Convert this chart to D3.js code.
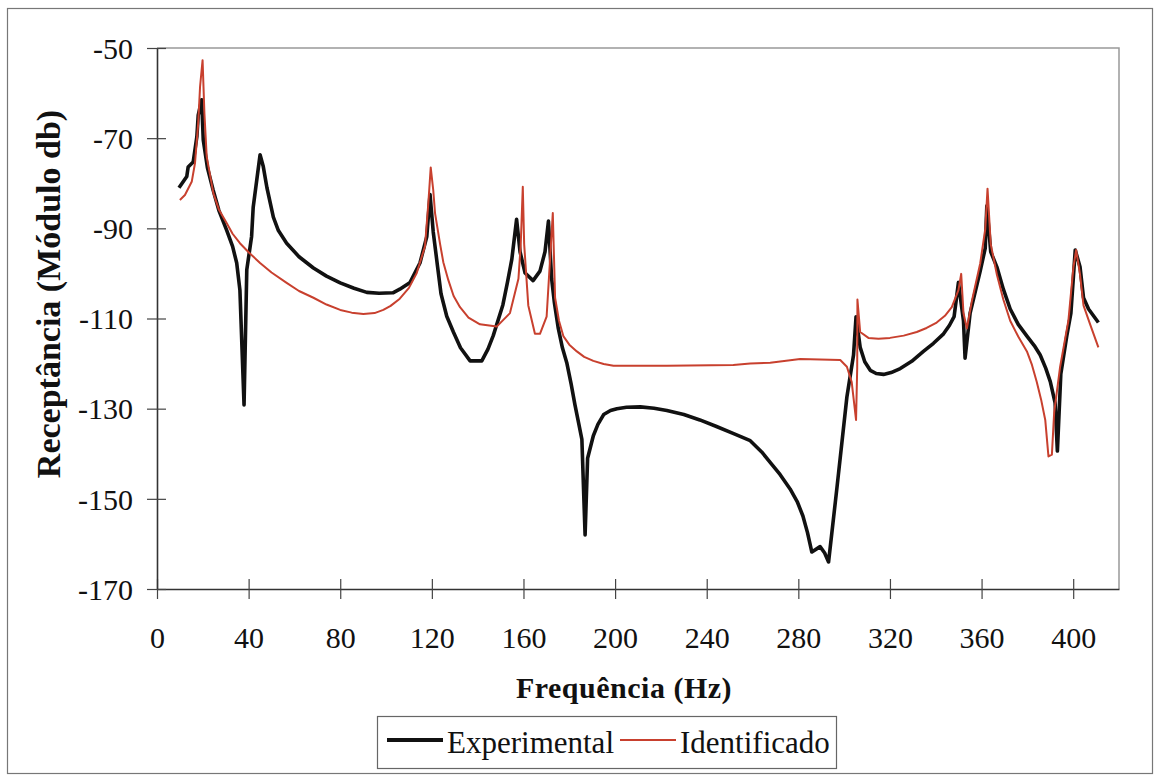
<!DOCTYPE html>
<html>
<head>
<meta charset="utf-8">
<script src="https://cdn.jsdelivr.net/npm/d3@7"></script>
<style>
  body { margin: 0; background: #fff; }
  text { font-family: "Liberation Serif", "Times New Roman", serif; fill: #111; }
</style>
</head>
<body>
<svg id="chart" width="1158" height="776"></svg>
<script>
// ---- data
const xTicks = [0, 40, 80, 120, 160, 200, 240, 280, 320, 360, 400];
const yTicks = [-50, -70, -90, -110, -130, -150, -170];

const freqExp = [9.6, 13, 13.6, 15.8, 17.4, 18, 19.5, 20.2, 22, 24.5, 27, 30.4, 33, 34.8, 36.2, 38, 39.2, 41.3, 42, 45,
  46.4, 48, 50.8, 53, 56.6, 62, 68.3, 74, 80, 86, 91.6, 97, 103, 106, 110.5, 114.8, 117.8, 119.2, 120.6, 122.5,
  124, 126.5, 129.4, 132.5, 136.7, 141.8, 144.5, 146.8, 151, 153, 154.9, 157, 158.5, 160.7, 164.2, 167.2, 169.4, 170.9, 172.3, 173.5,
  175.2, 177, 178.9, 180.8, 182.5, 184, 185.5, 186.9, 188, 190.5, 192.5, 195, 198, 200.8, 205, 211, 217, 222.6, 230, 237,
  244, 251.5, 259, 264, 267.7, 272, 276.4, 279.5, 282, 284, 285.9, 289.5, 291.5, 293.2, 296.8, 301.2, 304.1, 305.2, 307, 309,
  311.4, 314, 317.2, 320.5, 324.5, 329.5, 334.6, 339, 343.4, 346, 348, 349.9, 352.1, 352.8, 355, 359.4, 361.6, 362.3, 364, 366.7,
  369.5, 372.5, 376, 379.8, 383, 385.6, 388, 390, 392.1, 393.1, 394.6, 397.2, 399, 400.9, 403, 404.5, 406.7, 411];
const dbExp = [-81, -78.5, -76.4, -75.3, -69.7, -64.9, -61.5, -70.4, -76.5, -81.5, -86, -90.4, -94, -97.7, -103.7, -129.2, -99.2, -91.8, -85.3, -73.7,
  -76.3, -81, -87.5, -90.5, -93.3, -96.3, -98.8, -100.6, -102.1, -103.3, -104.2, -104.4, -104.3, -103.5, -102, -97.7, -91.8, -82.5, -90.8, -98.5,
  -104.5, -109.5, -113, -116.5, -119.4, -119.4, -116.8, -113.8, -107, -102, -96.9, -88, -95.2, -99.9, -101.6, -99.5, -95.2, -88.4, -101.2, -106.5,
  -112.2, -116.5, -119.8, -124.5, -129.2, -133, -136.8, -158, -141, -136, -133.5, -131.3, -130.4, -130, -129.7, -129.6, -129.9, -130.4, -131.3, -132.5,
  -133.9, -135.5, -137.1, -139.6, -141.9, -144.6, -147.8, -150.6, -153.8, -157.5, -161.8, -160.6, -162, -164, -147.8, -127.4, -118.1, -109.6, -116.4, -119.6,
  -121.5, -122.2, -122.4, -122, -121.1, -119.5, -117.3, -115.5, -113.4, -111.5, -109.6, -102, -110.5, -118.8, -108.8, -99.5, -94.4, -85, -95.2, -98.6,
  -103.5, -107.9, -111.3, -113.9, -116, -118.1, -121, -124, -128.7, -139.4, -122.3, -113.9, -108.8, -94.8, -98.6, -105.4, -107.9, -110.9];

const freqId = [10, 12.2, 15.2, 16.6, 18, 18.8, 19.9, 20.7, 21.7, 24.6, 27, 30.4, 33, 36.2, 40, 45, 50, 56.6, 62, 68.3,
  74, 80, 85, 90.1, 95, 98.8, 102, 106, 110, 113.4, 117, 118.5, 119.5, 120.6, 121.4, 123.6, 125, 127.2, 129.5, 132.3,
  136, 141, 148.3, 154.1, 157.8, 158.8, 159.7, 160.3, 162.1, 165, 167.2, 170.1, 171.6, 172.8, 173.8, 175.5, 177.4, 180, 183.3, 186.5,
  190.5, 195, 199.3, 222.6, 251.6, 259, 267.7, 280.8, 298.3, 301.2, 303.3, 305.2, 305.7, 305.8, 307, 310.6, 315, 320, 326, 331.7,
  336, 340.4, 344, 347, 349.9, 351.1, 352.1, 353.6, 355.7, 359.4, 361.6, 362.6, 364, 366.7, 369.5, 372.5, 376, 379.8, 382, 384.1,
  386, 387.8, 389.2, 390.7, 391.7, 394.3, 397.9, 400.1, 401.3, 403, 404.5, 407.4, 411];
const dbId = [-83.7, -82.6, -79.6, -75.5, -66.6, -58.6, -52.7, -64.5, -74.1, -82.2, -85.8, -88.8, -91.2, -93.3, -95.3, -97.7, -99.8, -102.1, -103.9, -105.4,
  -106.9, -108.1, -108.7, -109, -108.8, -108.1, -107.2, -105.6, -103.2, -99.9, -94, -84.2, -76.5, -81.5, -86.7, -93.5, -97.5, -101.5, -105, -107.5,
  -109.8, -111.3, -111.8, -108.8, -101.2, -93.6, -80.8, -93.5, -107.1, -113.4, -113.4, -109.6, -96.9, -86.6, -105.4, -110.5, -113.9, -115.8, -117.3, -118.5,
  -119.4, -120.1, -120.5, -120.5, -120.3, -120, -119.8, -119, -119.2, -120.7, -124.1, -132.5, -121, -105.8, -113, -114.3, -114.5, -114.3, -113.8, -113,
  -112.1, -110.9, -109.4, -107.5, -103.7, -100.1, -108.8, -112.2, -106.3, -97.8, -90.2, -81.2, -93.5, -100.3, -105.8, -110.5, -114, -117.3, -120.3, -124.1,
  -128, -132.5, -140.6, -140.2, -130.8, -120.7, -110.5, -98.6, -94.8, -100.3, -107.1, -111.3, -116.4];

const seriesNames = ["Experimental", "Identificado"];
const seriesColors = ["#111111", "#c8402e"];

//-----------------------------------
const svg = d3.select("#chart");
const plot = { left: 157, top: 48, right: 1119, bottom: 589 };

const x = d3.scaleLinear().domain([0, 420]).range([plot.left, plot.right]);
const y = d3.scaleLinear().domain([-170, -50]).range([plot.bottom, plot.top]);

// outer frame
svg.append("rect")
  .attr("x", 7.5).attr("y", 8.5).attr("width", 1145).attr("height", 765)
  .attr("fill", "none").attr("stroke", "#777").attr("stroke-width", 1.2);

// plot area border (top / right lighter)
svg.append("path")
  .attr("d", `M${plot.left},${plot.top}H${plot.right}V${plot.bottom}`)
  .attr("fill", "none").attr("stroke", "#999").attr("stroke-width", 1.5);

// axes
const xAxis = d3.axisBottom(x).tickValues(xTicks).tickSizeInner(10).tickSizeOuter(0).tickPadding(0).tickFormat(d3.format("d"));
const gx = svg.append("g").attr("transform", `translate(0,${plot.bottom})`).call(xAxis);
gx.select(".domain").attr("stroke", "#333").attr("stroke-width", 1.6);
gx.selectAll(".tick line").attr("y1", -10).attr("y2", 10).attr("stroke", "#444").attr("stroke-width", 1.2);
gx.selectAll(".tick text").attr("y", 59).attr("dy", 0)
  .style("font-family", "'Liberation Serif', serif").style("font-size", "30px").attr("fill", "#111");

const yAxis = d3.axisLeft(y).tickValues(yTicks).tickSizeInner(10).tickSizeOuter(0).tickPadding(0).tickFormat(d => d);
const gy = svg.append("g").attr("transform", `translate(${plot.left},0)`).call(yAxis);
gy.select(".domain").attr("stroke", "#333").attr("stroke-width", 1.6);
gy.selectAll(".tick line").attr("x1", -10).attr("x2", 9).attr("stroke", "#444").attr("stroke-width", 1.2);
gy.selectAll(".tick text").attr("x", -24).attr("dy", "0.34em")
  .style("font-family", "'Liberation Serif', serif").style("font-size", "30px").attr("fill", "#111");

// curves
const line = d3.line().x(d => x(d[0])).y(d => y(d[1]));
const expData = d3.zip(freqExp, dbExp);
const idData = d3.zip(freqId, dbId);

svg.append("path").datum(expData)
  .attr("d", line).attr("fill", "none")
  .attr("stroke", seriesColors[0]).attr("stroke-width", 3.6).attr("stroke-linejoin", "round");

svg.append("path").datum(idData)
  .attr("d", line).attr("fill", "none")
  .attr("stroke", seriesColors[1]).attr("stroke-width", 2).attr("stroke-linejoin", "round");

// axis titles
svg.append("text")
  .attr("x", 624).attr("y", 698).attr("text-anchor", "middle")
  .style("font-size", "30px").style("font-weight", "bold").style("letter-spacing", "0.5px")
  .text("Frequência (Hz)");

svg.append("text")
  .attr("transform", "translate(60,294) rotate(-90)").attr("text-anchor", "middle")
  .style("font-size", "34px").style("font-weight", "bold")
  .text("Receptância (Módulo db)");

// legend
const lg = svg.append("g");
lg.append("rect")
  .attr("x", 377.5).attr("y", 716.5).attr("width", 459).attr("height", 52)
  .attr("fill", "#fff").attr("stroke", "#666").attr("stroke-width", 1.2);

const legendX = [387, 620];
seriesNames.forEach((name, i) => {
  lg.append("line")
    .attr("x1", legendX[i]).attr("x2", legendX[i] + 56).attr("y1", 740).attr("y2", 740)
    .attr("stroke", seriesColors[i]).attr("stroke-width", i === 0 ? 4 : 2);
  lg.append("text")
    .attr("x", legendX[i] + 60).attr("y", 753)
    .style("font-size", "31px")
    .text(name);
});
</script>
</body>
</html>
